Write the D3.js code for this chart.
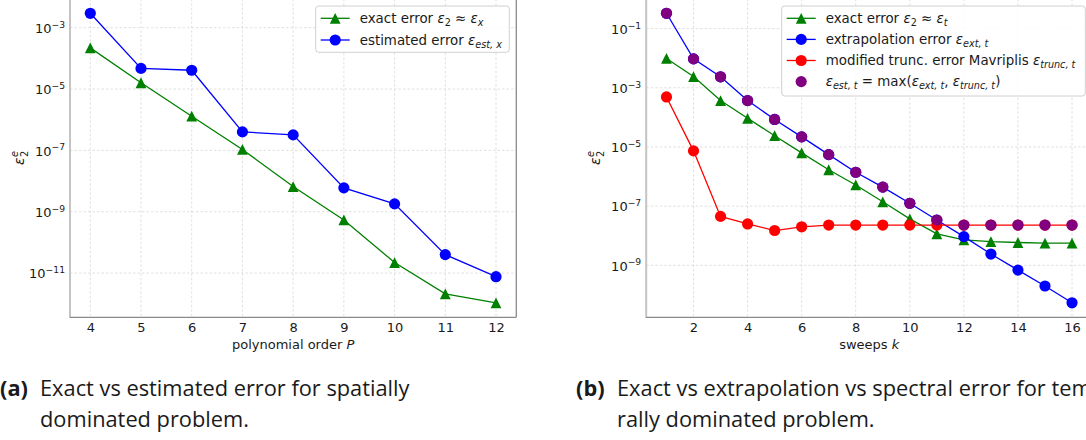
<!DOCTYPE html>
<html><head><meta charset="utf-8">
<script src="https://cdn.jsdelivr.net/npm/d3@7"></script>
<style>
body{margin:0;background:#fff;overflow:hidden;}
svg{display:block;}
</style></head><body>
<svg id="c" width="1086" height="440"></svg>
<script>
// ---------- data ----------
const orderP = [4, 5, 6, 7, 8, 9, 10, 11, 12];
const exactErrP = [2.2e-4, 1.6e-5, 1.3e-6, 1.07e-7, 6.6e-9, 5.4e-10, 2.2e-11, 2.1e-12, 1.07e-12];
const estErrP   = [2.95e-3, 4.7e-5, 4.1e-5, 4.0e-7, 3.2e-7, 6.0e-9, 1.8e-9, 4.0e-11, 7.6e-12];

const sweepsK = [1, 2, 3, 4, 5, 6, 7, 8, 9, 10, 11, 12, 13, 14, 15, 16];
const exactErrK  = [9.8e-3, 2.4e-3, 3.7e-4, 9.3e-5, 2.4e-5, 6.3e-6, 1.7e-6, 5.2e-7, 1.4e-7, 3.7e-8, 1.15e-8, 7.2e-9, 6.3e-9, 5.9e-9, 5.6e-9, 5.6e-9];
const extrapErrK = [0.33, 9.5e-3, 2.35e-3, 3.7e-4, 8.5e-5, 2.2e-5, 5.5e-6, 1.4e-6, 4.4e-7, 1.25e-7, 3.4e-8, 9.3e-9, 2.4e-9, 6.9e-10, 2.0e-10, 5.4e-11];
const truncErrK  = [4.9e-4, 7.4e-6, 4.5e-8, 2.5e-8, 1.5e-8, 2.0e-8, 2.3e-8, 2.3e-8, 2.3e-8, 2.3e-8, 2.3e-8, 2.3e-8, 2.3e-8, 2.3e-8, 2.3e-8, 2.3e-8];
const estErrK    = [0.33, 9.5e-3, 2.35e-3, 3.7e-4, 8.5e-5, 2.2e-5, 5.5e-6, 1.4e-6, 4.4e-7, 1.25e-7, 3.4e-8, 2.3e-8, 2.3e-8, 2.3e-8, 2.3e-8, 2.3e-8];

const xTicksA = [4, 5, 6, 7, 8, 9, 10, 11, 12];
const yTicksA = [-3, -5, -7, -9, -11];
const xTicksB = [2, 4, 6, 8, 10, 12, 14, 16];
const yTicksB = [-1, -3, -5, -7, -9];

const captionA = ["(a)", "Exact vs estimated error for spatially", "dominated problem."];
const captionB = ["(b)", "Exact vs extrapolation vs spectral error for tempo-", "rally dominated problem."];

// ---------- helpers ----------
const svg = d3.select("#c");
const FONT = "DejaVu Sans";
const TXT = "#1a1a1a";

function mtext(parent, x, y, segs, size, anchor) {
  const t = parent.append("text").attr("x", x).attr("y", y)
    .attr("font-family", FONT).attr("font-size", size).attr("fill", TXT)
    .attr("text-anchor", anchor || "start");
  let cur = 0;
  segs.forEach(([s, st]) => {
    st = st || "";
    let shift = 0, fs = size;
    if (st.includes("_")) { shift = 0.22 * size; fs = size * 0.72; }
    if (st.includes("^")) { shift = -0.4 * size; fs = size * 0.72; }
    t.append("tspan").text(s)
      .attr("dy", shift - cur)
      .attr("font-size", fs)
      .attr("font-style", st.includes("i") ? "italic" : "normal");
    cur = shift;
  });
  return t;
}

function logDomain(arrays) {
  const all = arrays.flat().map(Math.log10);
  const lo = d3.min(all), hi = d3.max(all), m = (hi - lo) * 0.05;
  return [Math.pow(10, lo - m), Math.pow(10, hi + m)];
}
function linDomain(arr) {
  const lo = d3.min(arr), hi = d3.max(arr), m = (hi - lo) * 0.05;
  return [lo - m, hi + m];
}

function triPath(s) {
  return `M0,${-s}L${s},${s}L${-s},${s}Z`;
}

const TOP = -1.2, BOTTOM = 317.3;

function panel(opts) {
  const g = svg.append("g");
  const x = d3.scaleLinear().domain(linDomain(opts.xs)).range([opts.left, opts.right]);
  const y = d3.scaleLog().domain(logDomain(opts.series.map(s => s.values))).range([BOTTOM, TOP]);

  // grid
  const grid = g.append("g").attr("stroke", "#d8d8d8").attr("stroke-width", 0.8).attr("stroke-dasharray", "2.5,2");
  opts.xTicks.forEach(v => grid.append("line").attr("x1", x(v)).attr("x2", x(v)).attr("y1", TOP).attr("y2", BOTTOM));
  opts.yTicks.forEach(e => grid.append("line").attr("x1", opts.left).attr("x2", opts.right).attr("y1", y(Math.pow(10, e))).attr("y2", y(Math.pow(10, e))));

  // axes
  const xa = g.append("g").attr("transform", `translate(0,${BOTTOM})`)
    .call(d3.axisBottom(x).tickValues(opts.xTicks).tickSize(0).tickPadding(5).tickFormat(d3.format("d")));
  xa.select(".domain").remove();
  xa.selectAll("text").attr("font-family", FONT).attr("font-size", 13).attr("fill", TXT);

  const ya = g.append("g").attr("transform", `translate(${opts.left},0)`)
    .call(d3.axisLeft(y).tickValues(opts.yTicks.map(e => Math.pow(10, e))).tickSize(0).tickPadding(5).tickFormat(() => ""));
  ya.select(".domain").remove();
  ya.selectAll(".tick text").each(function(d) {
    const t = d3.select(this).attr("font-family", FONT).attr("font-size", 13).attr("fill", TXT).attr("dy", "0.36em");
    const e = Math.round(Math.log10(d));
    t.append("tspan").text("10");
    t.append("tspan").text("\u2212" + Math.abs(e)).attr("font-size", 9.2).attr("dy", -5.2);
  });

  // spines
  const sp = g.append("g").attr("fill", "none");
  sp.append("line").attr("x1", opts.left).attr("x2", opts.left).attr("y1", TOP).attr("y2", BOTTOM + 0.7).attr("stroke", "#c4c4c4").attr("stroke-width", 2);
  sp.append("line").attr("x1", opts.left).attr("x2", opts.right).attr("y1", BOTTOM).attr("y2", BOTTOM).attr("stroke", "#8a8a8a").attr("stroke-width", 1.3);
  sp.append("line").attr("x1", opts.right).attr("x2", opts.right).attr("y1", TOP).attr("y2", BOTTOM).attr("stroke", "#8a8a8a").attr("stroke-width", 1.3);
  sp.append("line").attr("x1", opts.left).attr("x2", opts.right).attr("y1", TOP).attr("y2", TOP).attr("stroke", "#8a8a8a").attr("stroke-width", 1.3);

  // series
  const line = d3.line().x(d => x(d[0])).y(d => y(d[1]));
  opts.series.forEach(s => {
    const pts = opts.xs.map((v, i) => [v, s.values[i]]);
    if (s.line) g.append("path").attr("d", line(pts)).attr("fill", "none").attr("stroke", s.color).attr("stroke-width", 1.3);
    const mg = g.append("g").attr("fill", s.color);
    pts.forEach(p => {
      if (s.marker === "tri") mg.append("path").attr("d", triPath(5.4)).attr("transform", `translate(${x(p[0])},${y(p[1])})`);
      else mg.append("circle").attr("cx", x(p[0])).attr("cy", y(p[1])).attr("r", 5.6);
    });
  });

  // axis labels
  mtext(g, (opts.left + opts.right) / 2, 349, opts.xLabel, 13, "middle");
  const yl = g.append("g").attr("transform", `translate(${opts.left - 51},${(TOP + BOTTOM) / 2}) rotate(-90)`);
  const eps = yl.append("text").attr("font-family", FONT).attr("font-size", 14).attr("fill", TXT).attr("font-style", "italic").attr("text-anchor", "start").attr("x", -7).attr("y", 5).text("\u03b5");
  const w = eps.node().getComputedTextLength();
  yl.append("text").attr("font-family", FONT).attr("font-size", 9.8).attr("fill", TXT).attr("font-style", "italic").attr("x", -7 + w + 0.5).attr("y", -1).text("e");
  yl.append("text").attr("font-family", FONT).attr("font-size", 9.8).attr("fill", TXT).attr("x", -7 + w + 0.5).attr("y", 8.5).text("2");

  // legend
  const L = opts.legend;
  const lg = g.append("g");
  lg.append("rect").attr("x", L.x0).attr("y", L.y0).attr("width", L.x1 - L.x0).attr("height", L.y1 - L.y0)
    .attr("rx", 3).attr("fill", "#fff").attr("fill-opacity", 0.85).attr("stroke", "#d0d0d0").attr("stroke-width", 1);
  L.items.forEach((it, i) => {
    const s = opts.series[it.idx];
    const cy = L.rowY + i * L.dy;
    const hx0 = L.x0 + 5, hx1 = hx0 + 29, hc = (hx0 + hx1) / 2;
    if (s.line) lg.append("line").attr("x1", hx0).attr("x2", hx1).attr("y1", cy).attr("y2", cy).attr("stroke", s.color).attr("stroke-width", 1.3);
    if (s.marker === "tri") lg.append("path").attr("d", triPath(5.4)).attr("transform", `translate(${hc},${cy})`).attr("fill", s.color);
    else lg.append("circle").attr("cx", hc).attr("cy", cy).attr("r", 5.6).attr("fill", s.color);
    mtext(lg, L.x0 + 44, cy + 4.7, it.label, 13.4);
  });
  return g;
}

// ---------- panel (a) ----------
panel({
  left: 70, right: 516.3,
  xs: orderP, xTicks: xTicksA, yTicks: yTicksA,
  series: [
    { values: exactErrP, color: "green", marker: "tri", line: true },
    { values: estErrP, color: "blue", marker: "circle", line: true }
  ],
  xLabel: [["polynomial order "], ["P", "i"]],
  legend: {
    x0: 315.7, x1: 509.3, y0: 6, y1: 52.3, rowY: 18.3, dy: 21.7,
    items: [
      { idx: 0, label: [["exact error "], ["\u03b5", "i"], ["2", "_"], [" \u2248 "], ["\u03b5", "i"], ["x", "i_"]] },
      { idx: 1, label: [["estimated error "], ["\u03b5", "i"], ["est, x", "i_"]] }
    ]
  }
});

// ---------- panel (b) ----------
panel({
  left: 646.2, right: 1092.3,
  xs: sweepsK, xTicks: xTicksB, yTicks: yTicksB,
  series: [
    { values: exactErrK, color: "green", marker: "tri", line: true },
    { values: extrapErrK, color: "blue", marker: "circle", line: true },
    { values: truncErrK, color: "red", marker: "circle", line: true },
    { values: estErrK, color: "purple", marker: "circle", line: false }
  ],
  xLabel: [["sweeps "], ["k", "i"]],
  legend: {
    x0: 781.7, x1: 1085.3, y0: 6, y1: 96, rowY: 18.3, dy: 21.1,
    items: [
      { idx: 0, label: [["exact error "], ["\u03b5", "i"], ["2", "_"], [" \u2248 "], ["\u03b5", "i"], ["t", "i_"]] },
      { idx: 1, label: [["extrapolation error "], ["\u03b5", "i"], ["ext, t", "i_"]] },
      { idx: 2, label: [["modified trunc. error Mavriplis "], ["\u03b5", "i"], ["trunc, t", "i_"]] },
      { idx: 3, label: [["\u03b5", "i"], ["est, t", "i_"], [" = max("], ["\u03b5", "i"], ["ext, t", "i_"], [", "], ["\u03b5", "i"], ["trunc, t", "i_"], [")"]] }
    ]
  }
});

// ---------- captions ----------
function caption(cap, x0, xText) {
  const f = "'Open Sans', 'Noto Sans', sans-serif";
  const fs = 21.8;
  svg.append("text").attr("x", x0).attr("y", 396).attr("font-family", f).attr("font-size", fs).attr("font-weight", "bold").attr("fill", "#1a1a1a").text(cap[0]);
  svg.append("text").attr("x", xText).attr("y", 396).attr("font-family", f).attr("font-size", fs).attr("fill", "#1a1a1a").text(cap[1]);
  svg.append("text").attr("x", xText).attr("y", 427).attr("font-family", f).attr("font-size", fs).attr("fill", "#1a1a1a").text(cap[2]);
}
caption(captionA, 0, 40);
caption(captionB, 576, 617);
</script>
</body></html>
